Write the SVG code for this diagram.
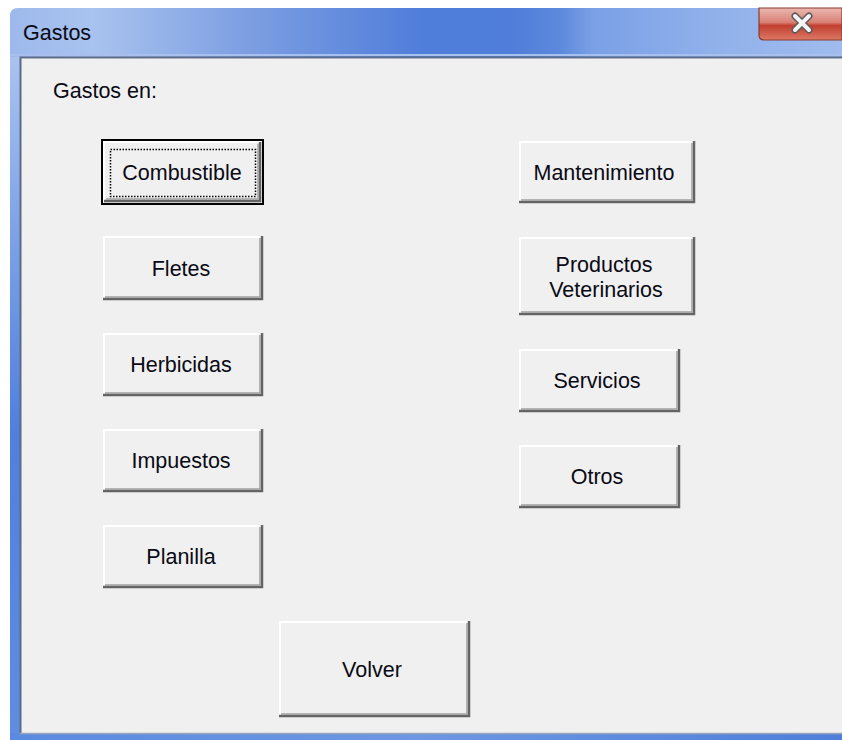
<svg xmlns="http://www.w3.org/2000/svg" width="842" height="740" viewBox="0 0 842 740">
<defs>
<linearGradient id="tb" x1="10" y1="0" x2="842" y2="0" gradientUnits="userSpaceOnUse">
<stop offset="0" stop-color="#9db9ec"/>
<stop offset="0.1" stop-color="#a9c3ef"/>
<stop offset="0.28" stop-color="#7e9fe2"/>
<stop offset="0.5" stop-color="#4f7dda"/>
<stop offset="0.6" stop-color="#4f7dd9"/>
<stop offset="0.66" stop-color="#5c89dc"/>
<stop offset="0.7" stop-color="#7aa0e6"/>
<stop offset="0.85" stop-color="#91b1eb"/>
<stop offset="1" stop-color="#a0bcee"/>
</linearGradient>
<linearGradient id="lf" x1="0" y1="57" x2="0" y2="740" gradientUnits="userSpaceOnUse">
<stop offset="0" stop-color="#a9c3ef"/>
<stop offset="0.25" stop-color="#7fa3e6"/>
<stop offset="0.55" stop-color="#4f80dc"/>
<stop offset="1" stop-color="#5f8ee0"/>
</linearGradient>
<linearGradient id="bf" x1="0" y1="0" x2="842" y2="0" gradientUnits="userSpaceOnUse">
<stop offset="0" stop-color="#5a8ae0"/>
<stop offset="0.5" stop-color="#6d97e3"/>
<stop offset="1" stop-color="#4f7fdb"/>
</linearGradient>
<linearGradient id="cb" x1="0" y1="8" x2="0" y2="40" gradientUnits="userSpaceOnUse">
<stop offset="0" stop-color="#ebb8b0"/>
<stop offset="0.45" stop-color="#d98075"/>
<stop offset="0.55" stop-color="#c23e2f"/>
<stop offset="1" stop-color="#dc7a66"/>
</linearGradient>
</defs>
<style>
text{font-family:"Liberation Sans",Arial,sans-serif;fill:#0a0a14;font-size:21.5px}
.lbl{text-anchor:middle}
.face{fill:#f0f0f0}
.hi{fill:none;stroke:#ffffff;stroke-width:2}
.sh{fill:none;stroke:#646464;stroke-width:2.5}
.sh2{fill:none;stroke:#a0a0a0;stroke-width:1.5}
</style>
<rect width="842" height="740" fill="#ffffff"/>
<g id="window">
<path d="M10 16 Q10 8 18 8 H842 V57 H10 Z" fill="url(#tb)"/>
<rect x="10" y="54" width="832" height="2" fill="#a7c0ee"/>
<rect x="10" y="57" width="11" height="683" fill="url(#lf)"/>
<rect x="10" y="733" width="832" height="7" fill="url(#bf)"/>
<rect x="21" y="59" width="821" height="674" fill="#f0f0f0"/>
<path d="M20.5 733 V57.5 H842" fill="none" stroke="#5b6b88" stroke-width="2"/>
<line x1="20" y1="733.5" x2="842" y2="733.5" stroke="#9aa6b8" stroke-width="1.5"/>
<text x="23" y="40" font-size="22">Gastos</text>
</g>
<g id="close">
<path d="M759 8 H842 V40 H764 Q759 40 759 35 Z" fill="url(#cb)" stroke="#8a3a30" stroke-width="1.2"/>
<path d="M795 16 L809 30 M809 16 L795 30" stroke="#5a5a5a" stroke-width="7" stroke-linecap="round"/>
<path d="M795 16 L809 30 M809 16 L795 30" stroke="#f4f4f4" stroke-width="4" stroke-linecap="round"/>
</g>
<text id="label" x="53" y="98">Gastos en:</text>
<g id="btn-combustible">
<rect x="102" y="140" width="161" height="64" fill="none" stroke="#000" stroke-width="2"/>
<rect x="103" y="141" width="159" height="62" class="face"/>
<path class="hi" d="M104 202 V142 H261"/>
<path class="sh" d="M104 201 H260 V142"/>
<path class="sh2" d="M106 199 H258 V144"/>
<rect x="110.5" y="149.5" width="145" height="47" fill="none" stroke="#000" stroke-width="1.5" stroke-dasharray="1.5 1.5"/>
<text class="lbl" x="182" y="180">Combustible</text>
</g>
<g id="btn-fletes">
<rect x="103" y="236" width="160" height="64" class="face"/>
<path class="hi" d="M104 299 V237 H262"/>
<path class="sh" d="M103 299 H262 V236"/>
<path class="sh2" d="M105 297 H260 V238"/>
<text class="lbl" x="181" y="276">Fletes</text>
</g>
<g id="btn-herbicidas">
<rect x="103" y="333" width="160" height="63" class="face"/>
<path class="hi" d="M104 395 V334 H262"/>
<path class="sh" d="M103 395 H262 V333"/>
<path class="sh2" d="M105 393 H260 V335"/>
<text class="lbl" x="181" y="372">Herbicidas</text>
</g>
<g id="btn-impuestos">
<rect x="103" y="429" width="160" height="63" class="face"/>
<path class="hi" d="M104 491 V430 H262"/>
<path class="sh" d="M103 491 H262 V429"/>
<path class="sh2" d="M105 489 H260 V431"/>
<text class="lbl" x="181" y="468">Impuestos</text>
</g>
<g id="btn-planilla">
<rect x="103" y="525" width="160" height="63" class="face"/>
<path class="hi" d="M104 587 V526 H262"/>
<path class="sh" d="M103 587 H262 V525"/>
<path class="sh2" d="M105 585 H260 V527"/>
<text class="lbl" x="181" y="564">Planilla</text>
</g>
<g id="btn-mantenimiento">
<rect x="519" y="141" width="176" height="62" class="face"/>
<path class="hi" d="M520 202 V142 H694"/>
<path class="sh" d="M519 202 H694 V141"/>
<path class="sh2" d="M521 200 H692 V143"/>
<text class="lbl" x="604" y="180">Mantenimiento</text>
</g>
<g id="btn-productos">
<rect x="519" y="237" width="176" height="78" class="face"/>
<path class="hi" d="M520 314 V238 H694"/>
<path class="sh" d="M519 314 H694 V237"/>
<path class="sh2" d="M521 312 H692 V239"/>
<text class="lbl" x="604" y="272">Productos</text>
<text class="lbl" x="606" y="297">Veterinarios</text>
</g>
<g id="btn-servicios">
<rect x="519" y="349" width="161" height="63" class="face"/>
<path class="hi" d="M520 411 V350 H679"/>
<path class="sh" d="M519 411 H679 V349"/>
<path class="sh2" d="M521 409 H677 V351"/>
<text class="lbl" x="597" y="388">Servicios</text>
</g>
<g id="btn-otros">
<rect x="519" y="445" width="161" height="63" class="face"/>
<path class="hi" d="M520 507 V446 H679"/>
<path class="sh" d="M519 507 H679 V445"/>
<path class="sh2" d="M521 505 H677 V447"/>
<text class="lbl" x="597" y="484">Otros</text>
</g>
<g id="btn-volver">
<rect x="279" y="621" width="191" height="96" class="face"/>
<path class="hi" d="M280 716 V622 H469"/>
<path class="sh" d="M279 716 H469 V621"/>
<path class="sh2" d="M281 714 H467 V623"/>
<text class="lbl" x="372" y="677">Volver</text>
</g>
<g id="connectors"/>
</svg>
